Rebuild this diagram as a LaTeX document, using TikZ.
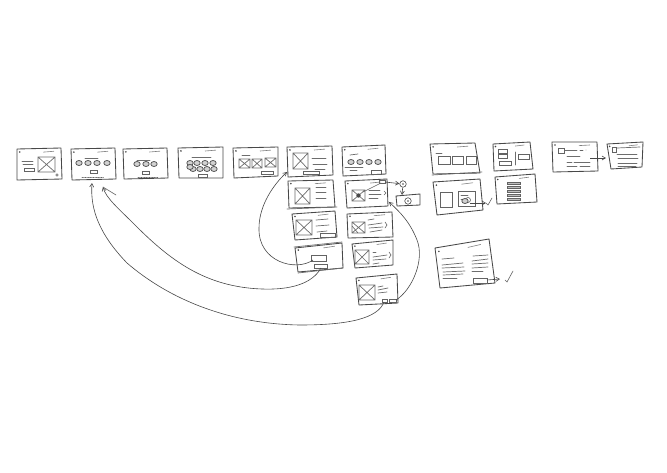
\documentclass[tikz,border=0pt]{standalone}
\usetikzlibrary{arrows.meta,calc}
\definecolor{pen}{HTML}{484848}
\tikzset{
  x=1pt,y=-1pt,
  screen/.style={draw=pen,line width=0.85pt,line join=round},
  ink/.style={draw=pen!85,line width=0.6pt,line cap=round},
  inkb/.style={draw=pen!80,line width=0.7pt,line cap=round},
  blob/.style={draw=pen,line width=0.7pt,fill=pen!25},
  link/.style={draw=pen,line width=0.6pt,-{Straight Barb[length=3.5pt,width=4pt]}},
}
% screen outline with named corners, corner dot and header scribble
\newcommand{\scrn}[5]{%
  \coordinate (#1-a) at (#2); \coordinate (#1-b) at (#3);
  \coordinate (#1-c) at (#4); \coordinate (#1-d) at (#5);
  \draw[screen] (#1-a) -- (#1-b) -- (#1-c) -- (#1-d) -- cycle;
  \fill[pen] ($(#1-a)!0.07!(#1-b)!0.1!(#1-d)$) circle (0.9pt);
  \draw[ink,draw=pen!70] ($(#1-a)!0.68!(#1-b)!0.12!(#1-d)$) -- ($(#1-a)!0.93!(#1-b)!0.1!(#1-d)$);
}
\newcommand{\xbx}[4]{%
  \draw[inkb] (#1,#2) rectangle (#3,#4) (#1,#2) -- (#3,#4) (#3,#2) -- (#1,#4);
}
\newcommand{\bxx}[4]{\draw[ink] (#1,#2) rectangle (#3,#4);}
\newcommand{\lnn}[4]{\draw[inkb] (#1,#2) -- (#3,#4);}
\newcommand{\blb}[2]{\draw[blob] (#1,#2) ellipse (3.2pt and 2.5pt);}
\begin{document}
\begin{tikzpicture}
\useasboundingbox (0,0) rectangle (667,472);
% row 1
\scrn{s1}{17,149}{61,148}{62,179}{17,180}
\xbx{38}{157}{55}{172} \lnn{22}{161}{33}{161} \lnn{23}{164}{33}{164} \bxx{24}{168}{34}{171}
\draw[ink] (57,175) circle (1.2pt);
\scrn{s2}{71,149}{115,148}{116,179}{72,180}
\lnn{85}{158}{98}{158} \blb{79}{163} \blb{88}{163} \blb{97}{163} \blb{107}{163} \bxx{90}{170}{97}{173}
\draw[ink,densely dotted] (82,177) -- (104,177);
\scrn{s3}{123,149}{167,148}{168,178}{124,179}
\lnn{137}{160}{150}{160} \blb{137}{164} \blb{146}{164} \blb{154}{164} \bxx{142}{171}{149}{174}
\draw[ink,densely dotted] (138,177) -- (158,177);
\scrn{s4}{178,148}{223,147}{223,178}{179,178}
\lnn{192}{157}{211}{157} \blb{190}{163} \blb{197}{163} \blb{205}{163} \blb{213}{163}
\blb{193}{169} \blb{200}{169} \blb{207}{169} \blb{214}{169} \blb{190}{167} \bxx{198}{174}{207}{177}
\scrn{s5}{233,148}{278,147}{278,176}{234,178}
\lnn{242}{155}{250}{155} \xbx{239}{159}{250}{168} \xbx{252}{159}{262}{168} \xbx{265}{158}{276}{167} \bxx{261}{171}{273}{174}
\scrn{s6}{287,147}{332,146}{333,175}{288,177}
\xbx{293}{153}{308}{169} \lnn{312}{158}{326}{158} \lnn{313}{164}{327}{164} \lnn{315}{169}{325}{169} \bxx{303}{171}{319}{174}
\coordinate (s6in) at (287,172);
\scrn{s7}{342,147}{385,145}{386,174}{343,176}
\lnn{350}{155}{358}{154} \blb{351}{162} \blb{360}{162} \blb{369}{162} \blb{378}{162}
\lnn{345}{167}{363}{167} \lnn{350}{170}{357}{170} \bxx{371}{170}{381}{174}
% column 1 below
\scrn{s8}{288,181}{333,180}{335,207}{289,208}
\xbx{295}{188}{310}{204} \lnn{316}{187}{326}{187} \lnn{316}{192}{326}{192} \lnn{316}{198}{326}{198}
\lnn{287}{209}{337}{207}
\scrn{s10}{292,214}{335,211}{337,237}{295,240}
\xbx{296}{220}{312}{235} \lnn{316}{220}{328}{219} \lnn{316}{226}{329}{225} \lnn{317}{232}{327}{231} \bxx{320}{233}{335}{237}
\scrn{s11}{295,248}{342,243}{343,268}{298,272}
\bxx{311}{255}{326}{261} \bxx{314}{264}{327}{268} \lnn{294}{247}{342}{242} \lnn{298}{273}{343}{268}
\coordinate (b11a) at (313,260); \coordinate (b11b) at (321,268);
% column 2 below
\scrn{s9}{345,181}{387,179}{388,206}{347,208}
\xbx{352}{190}{365}{201} \fill[pen] (358.5,195.5) circle (2.2pt);
\lnn{369}{190}{380}{190} \lnn{369}{194}{381}{194} \lnn{369}{198}{378}{198} \draw[ink] (384,191) -- (386,193) -- (384,195);
\bxx{379}{180}{385}{183} \draw[ink] (363,192) -- (381,183);
\coordinate (s9in) at (389,202);
\coordinate (s9out) at (385,182);
\node[circle,draw=pen,line width=0.6pt,inner sep=0pt,minimum size=6.5pt] (c1) at (403,184) {};
\fill[pen] (403,184) circle (0.9pt);
\draw[screen] (396,196) -- (420,194) -- (420,205) -- (397,206) -- cycle;
\node[circle,draw=pen,line width=0.6pt,inner sep=0pt,minimum size=6.5pt] (c2) at (408,201) {};
\fill[pen] (408,201) circle (0.9pt);
\coordinate (s22top) at (402,195);
\draw[link] (s9out) -- (c1);
\draw[link] (c1) -- (s22top);
\scrn{s12}{347,214}{392,212}{393,237}{348,238}
\xbx{352}{222}{365}{233} \draw[ink] (352,226) -- (358,233); \lnn{368}{220}{374}{219} \lnn{368}{225}{382}{223} \lnn{369}{228}{383}{227} \lnn{370}{232}{382}{230}
\draw[ink] (385,222) -- (387,225) -- (385,228);
\scrn{s13}{352,244}{393,240}{393,265}{355,268}
\xbx{355}{250}{369}{264} \lnn{373}{252}{376}{252} \lnn{373}{257}{387}{255} \lnn{373}{260}{386}{259} \lnn{373}{264}{379}{263}
\draw[ink] (389,252) -- (391,255) -- (389,258);
\scrn{s14}{356,278}{397,274}{398,303}{359,305}
\xbx{359}{285}{375}{300} \lnn{378}{287}{383}{286} \lnn{378}{290}{388}{288} \lnn{378}{293}{387}{292} \bxx{382}{299}{387}{302} \bxx{389}{299}{396}{302}
\coordinate (b14a) at (384,302); \coordinate (b14b) at (396,300);
% right group
\scrn{s15}{430,144}{475,143}{480,173}{433,174}
\lnn{436}{153}{442}{153} \bxx{438}{156}{450}{164} \bxx{452}{156}{463}{164} \bxx{466}{156}{476}{164} \lnn{432}{175}{482}{172}
\scrn{s16}{493,144}{530,142}{533,169}{494,171}
\bxx{498}{149}{507}{153} \bxx{498}{154}{507}{158} \bxx{499}{161}{511}{165} \lnn{515}{152}{515}{165} \bxx{518}{154}{529}{159}
\scrn{s17}{433,182}{480,179}{483,210}{437,215}
\bxx{440}{192}{452}{207} \bxx{458}{191}{475}{206} \lnn{461}{195}{468}{195} \lnn{461}{199}{466}{199}
\draw[ink] (468,200) circle (2.5pt); \blb{465}{201}
\coordinate (s17out) at (470,203); \coordinate (ok17) at (486,203);
\draw[link] (s17out) -- (ok17);
\draw[ink] (486,203) -- (488,205) -- (492,198);
\scrn{s18}{495,177}{535,174}{537,202}{497,204}
\foreach \yy in {182,186,190,194,198} {\draw[ink,fill=pen!35] (507,\yy) rectangle (520,\yy+2.6);}
\scrn{s19}{552,142}{597,142}{598,171}{553,172}
\bxx{558}{148}{564}{153} \lnn{565}{150}{577}{150} \draw[ink,dashed] (580,150) -- (586,150);
\lnn{567}{156}{580}{156} \lnn{567}{162}{572}{162} \lnn{574}{162}{590}{162} \lnn{567}{166}{577}{166} \lnn{580}{166}{590}{166}
\coordinate (s19out) at (590,158); \coordinate (s20in) at (606,158);
\draw[link] (s19out) -- (s20in);
\scrn{s20}{607,144}{643,142}{642,167}{611,169}
\bxx{612}{147}{616}{152} \lnn{617}{148}{640}{147} \lnn{617}{154}{637}{154} \lnn{618}{158}{638}{158} \lnn{618}{163}{637}{163} \lnn{618}{166}{636}{166}
\scrn{s21}{435,248}{489,239}{495,283}{440,288}
\lnn{442}{259}{454}{258} \lnn{442}{265}{463}{263} \lnn{442}{268}{464}{267} \lnn{443}{272}{465}{271} \lnn{443}{275}{463}{274} \lnn{443}{278}{457}{278}
\lnn{473}{256}{488}{255} \lnn{472}{261}{488}{259} \lnn{472}{264}{488}{263} \lnn{472}{268}{488}{267} \lnn{472}{271}{483}{271}
\bxx{473}{278}{487}{283}
\coordinate (s21out) at (487,280); \coordinate (ok21) at (500,279);
\draw[link] (s21out) -- (ok21);
\draw[ink] (505,280) -- (507,282) -- (513,271);
% long connectors
\coordinate (s2a) at (92,183); \coordinate (s2b) at (103,187); \coordinate (tail) at (116,195);
\draw[link] (b11a) .. controls (296,272) and (258,262) .. (259,228) .. controls (259,205) and (274,184) .. (s6in);
\draw[link] (b11b) .. controls (312,284) and (290,290) .. (262,289) .. controls (205,287) and (170,260) .. (135,225) .. controls (118,208) and (106,198) .. (s2b);
\draw[ink] (s2b) -- (tail);
\draw[link] (b14a) .. controls (378,318) and (350,325) .. (300,325) .. controls (230,324) and (170,300) .. (127,263) .. controls (100,235) and (90,210) .. (s2a);
\draw[link] (b14b) .. controls (412,290) and (425,260) .. (417,240) .. controls (410,222) and (400,212) .. (s9in);
\end{tikzpicture}
\end{document}
